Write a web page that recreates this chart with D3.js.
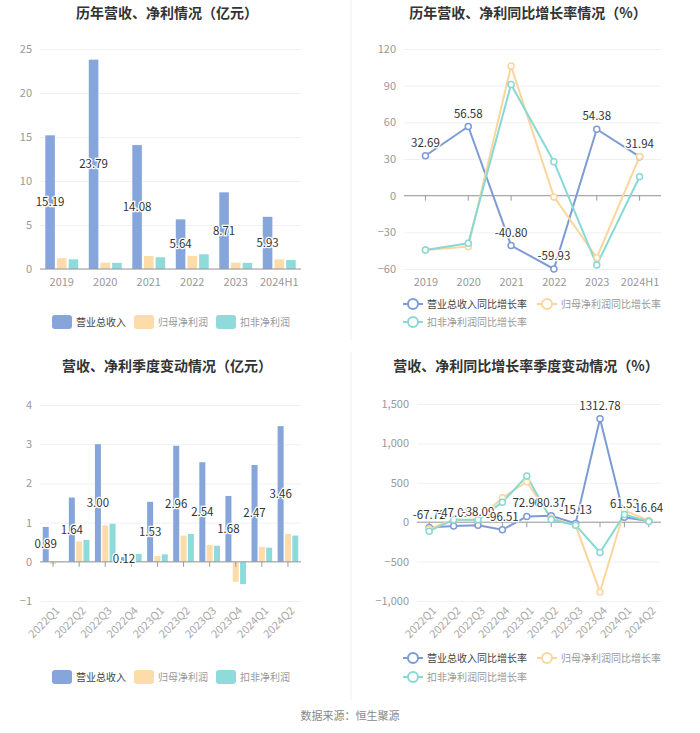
<!DOCTYPE html>
<html>
<head>
<meta charset="utf-8">
<script src="https://cdn.jsdelivr.net/npm/d3@7"></script>
<style>
  body { margin: 0; background: #fff; }
  svg text { font-family: "Noto Sans CJK SC", "Noto Sans", sans-serif; }
</style>
</head>
<body>
<svg id="chart" width="700" height="733"></svg>
<script>
// ---- data ----
const years = ["2019", "2020", "2021", "2022", "2023", "2024H1"];
const revenue = [15.19, 23.79, 14.08, 5.64, 8.71, 5.93];
const netProfit = [1.22, 0.72, 1.48, 1.48, 0.72, 1.1];
const deductProfit = [1.1, 0.7, 1.33, 1.67, 0.7, 1.02];

const revenueYoY = [32.69, 56.58, -40.80, -59.93, 54.38, 31.94];
const netProfitYoY = [-44.4, -41.7, 106, -1, -50.7, 32];
const deductProfitYoY = [-44.4, -39, 91, 27.8, -56.7, 15.5];

const quarters = ["2022Q1", "2022Q2", "2022Q3", "2022Q4", "2023Q1", "2023Q2", "2023Q3", "2023Q4", "2024Q1", "2024Q2"];
const qRevenue = [0.89, 1.64, 3.00, 0.12, 1.53, 2.96, 2.54, 1.68, 2.47, 3.46];
const qNetProfit = [-0.06, 0.52, 0.93, -0.02, 0.15, 0.67, 0.43, -0.51, 0.38, 0.71];
const qDeductProfit = [-0.01, 0.56, 0.97, 0.2, 0.19, 0.71, 0.41, -0.57, 0.36, 0.67];

const qRevenueYoY = [-67.72, -47.01, -38.09, -96.51, 72.90, 80.37, -15.13, 1312.78, 61.53, 16.64];
const qNetProfitYoY = [-85, 30, 28, 310, 513, 50, -40, -885, 150, 20];
const qDeductProfitYoY = [-114, 32, 30, 254, 585, 34, -38, -385, 98, 10];

const yTicksAnnual = [0, 5, 10, 15, 20, 25];
const yTicksAnnualYoY = [-60, -30, 0, 30, 60, 90, 120];
const yTicksQuarter = [-1, 0, 1, 2, 3, 4];
const yTicksQuarterYoY = [-1000, -500, 0, 500, 1000, 1500];

const barNames = ["营业总收入", "归母净利润", "扣非净利润"];
const lineNames = ["营业总收入同比增长率", "归母净利润同比增长率", "扣非净利润同比增长率"];
const barColors = ["#86a5da", "#fddcaa", "#8fdada"];
const lineColors = ["#7d9bd4", "#fcd59c", "#88d9d4"];

const svg = d3.select("#chart");

// divider lines
svg.append("line").attr("x1", 351).attr("x2", 351).attr("y1", 0).attr("y2", 340)
  .attr("stroke", "#f0f0f0");
svg.append("line").attr("x1", 351).attr("x2", 351).attr("y1", 352).attr("y2", 700)
  .attr("stroke", "#f0f0f0");

function title(text, x, y) {
  svg.append("text").attr("x", x).attr("y", y).attr("text-anchor", "middle")
    .attr("font-size", 14).attr("font-weight", "bold").attr("fill", "#333").text(text);
}

function yAxis(g, y, ticks, x0, x1, fmt) {
  const ax = g.append("g").attr("transform", `translate(${x0},0)`)
    .call(d3.axisLeft(y).tickValues(ticks).tickSize(-(x1 - x0)).tickPadding(8)
      .tickFormat(fmt || d3.format("d")));
  ax.select(".domain").remove();
  ax.selectAll("line").attr("stroke", "#eef0f3");
  ax.selectAll("text").attr("fill", "#999").attr("font-size", 11);
}

function xLabels(g, x, y1, rotate) {
  const ax = g.append("g").attr("transform", `translate(0,${y1})`)
    .call(d3.axisBottom(x).tickSize(0).tickPadding(rotate ? 6 : 9));
  ax.select(".domain").remove();
  ax.selectAll("text").attr("fill", rotate ? "#aaa" : "#999").attr("font-size", 11);
  if (rotate) {
    ax.selectAll("text").attr("text-anchor", "end")
      .attr("transform", "rotate(-45)").attr("dx", "-0.2em").attr("dy", "0.6em");
  }
}

function zeroAxis(g, x, y, cats, x0, x1, withTicks) {
  g.append("line").attr("x1", x0).attr("x2", x1).attr("y1", y(0)).attr("y2", y(0))
    .attr("stroke", "#999");
  if (withTicks) {
    const c = x.bandwidth ? (d => x(d) + x.bandwidth() / 2) : (d => x(d));
    g.selectAll(".zt").data(cats).enter().append("line")
      .attr("x1", c).attr("x2", c).attr("y1", y(0)).attr("y2", y(0) + 5)
      .attr("stroke", "#999");
  }
}

function haloText(g, x, y, t) {
  g.append("text").attr("x", x).attr("y", y).attr("text-anchor", "middle")
    .attr("font-size", 11.5).attr("fill", "#333")
    .attr("stroke", "#fff").attr("stroke-width", 2.5).attr("paint-order", "stroke")
    .attr("dy", "0.35em").text(t);
}

function barChart(o) {
  const g = svg.append("g");
  const y = d3.scaleLinear().domain(o.domain).range([o.y1, o.y0]);
  const x = d3.scaleBand().domain(o.cats).range([o.x0, o.x1]);
  yAxis(g, y, o.ticks, o.x0, o.x1);
  xLabels(g, x, o.y1, o.rotate);
  const bw = x.bandwidth() * o.barRatio;
  const gap = bw * 0.22;
  const total = bw * 3 + gap * 2;
  o.series.forEach((vals, i) => {
    g.append("g").selectAll("rect").data(vals).enter().append("rect")
      .attr("x", (d, j) => x(o.cats[j]) + (x.bandwidth() - total) / 2 + i * (bw + gap))
      .attr("width", bw)
      .attr("y", d => y(Math.max(0, d)))
      .attr("height", d => Math.abs(y(d) - y(0)))
      .attr("fill", barColors[i]);
  });
  zeroAxis(g, x, y, o.cats, o.x0, o.x1, o.zeroTicks);
  o.series[0].forEach((d, j) => {
    const cx = x(o.cats[j]) + (x.bandwidth() - total) / 2 + bw / 2;
    haloText(g, cx, (y(d) + y(0)) / 2, d.toFixed(2));
  });
  // legend
  o.legend.forEach((it, i) => {
    g.append("rect").attr("x", it[0]).attr("y", o.legendY - 7).attr("width", 20).attr("height", 14)
      .attr("rx", 3).attr("fill", barColors[i]);
    g.append("text").attr("x", it[0] + 24).attr("y", o.legendY).attr("dy", "0.35em")
      .attr("font-size", 10).attr("fill", i === 0 ? "#444" : "#999").text(barNames[i]);
  });
}

function lineChart(o) {
  const g = svg.append("g");
  const y = d3.scaleLinear().domain(o.domain).range([o.y1, o.y0]);
  const x = d3.scalePoint().domain(o.cats).range([o.x0, o.x1]).padding(0.5);
  yAxis(g, y, o.ticks, o.x0, o.x1, o.fmt);
  xLabels(g, x, o.y1, o.rotate);
  zeroAxis(g, x, y, o.cats, o.x0, o.x1, true);
  const line = d3.line().x((d, j) => x(o.cats[j])).y(d => y(d));
  o.series.forEach((vals, i) => {
    g.append("path").datum(vals).attr("d", line).attr("fill", "none")
      .attr("stroke", lineColors[i]).attr("stroke-width", 2);
  });
  o.series.forEach((vals, i) => {
    g.append("g").selectAll("circle").data(vals).enter().append("circle")
      .attr("cx", (d, j) => x(o.cats[j])).attr("cy", d => y(d)).attr("r", 3)
      .attr("fill", "#fff").attr("stroke", lineColors[i]).attr("stroke-width", 1.5);
  });
  o.series[0].forEach((d, j) => {
    haloText(g, x(o.cats[j]), y(d) - 13, d.toFixed(2));
  });
  o.legend.forEach((it, i) => {
    const [lx, ly] = it;
    g.append("line").attr("x1", lx).attr("x2", lx + 20).attr("y1", ly).attr("y2", ly)
      .attr("stroke", lineColors[i]).attr("stroke-width", 2);
    g.append("circle").attr("cx", lx + 10).attr("cy", ly).attr("r", 5)
      .attr("fill", "#fff").attr("stroke", lineColors[i]).attr("stroke-width", 2);
    g.append("text").attr("x", lx + 24).attr("y", ly).attr("dy", "0.35em")
      .attr("font-size", 10).attr("fill", i === 0 ? "#444" : "#999").text(lineNames[i]);
  });
}

// ---- titles ----
title("历年营收、净利情况（亿元）", 167, 18);
title("历年营收、净利同比增长率情况（%）", 528, 18);
title("营收、净利季度变动情况（亿元）", 167, 371);
title("营收、净利同比增长率季度变动情况（%）", 526, 371);

barChart({
  x0: 40, x1: 301, y0: 49, y1: 269, cats: years, domain: [0, 25], ticks: yTicksAnnual,
  series: [revenue, netProfit, deductProfit], barRatio: 0.22, rotate: false, zeroTicks: false,
  legend: [[52], [134], [216]], legendY: 322
});

lineChart({
  x0: 404, x1: 661, y0: 49, y1: 269, cats: years, domain: [-60, 120], ticks: yTicksAnnualYoY,
  series: [revenueYoY, netProfitYoY, deductProfitYoY], rotate: false,
  legend: [[403, 304], [537, 304], [403, 322]]
});

barChart({
  x0: 40, x1: 301, y0: 405, y1: 601, cats: quarters, domain: [-1, 4], ticks: yTicksQuarter,
  series: [qRevenue, qNetProfit, qDeductProfit], barRatio: 0.23, rotate: true, zeroTicks: true,
  legend: [[52], [134], [216]], legendY: 677
});

lineChart({
  x0: 417, x1: 661, y0: 404, y1: 601, cats: quarters, domain: [-1000, 1500], ticks: yTicksQuarterYoY,
  series: [qRevenueYoY, qNetProfitYoY, qDeductProfitYoY], rotate: true, fmt: d3.format(","),
  legend: [[403, 658], [537, 658], [403, 677]]
});

svg.append("text").attr("x", 350).attr("y", 716).attr("text-anchor", "middle")
  .attr("dy", "0.35em").attr("font-size", 11).attr("fill", "#888").text("数据来源：恒生聚源");
</script>
</body>
</html>
